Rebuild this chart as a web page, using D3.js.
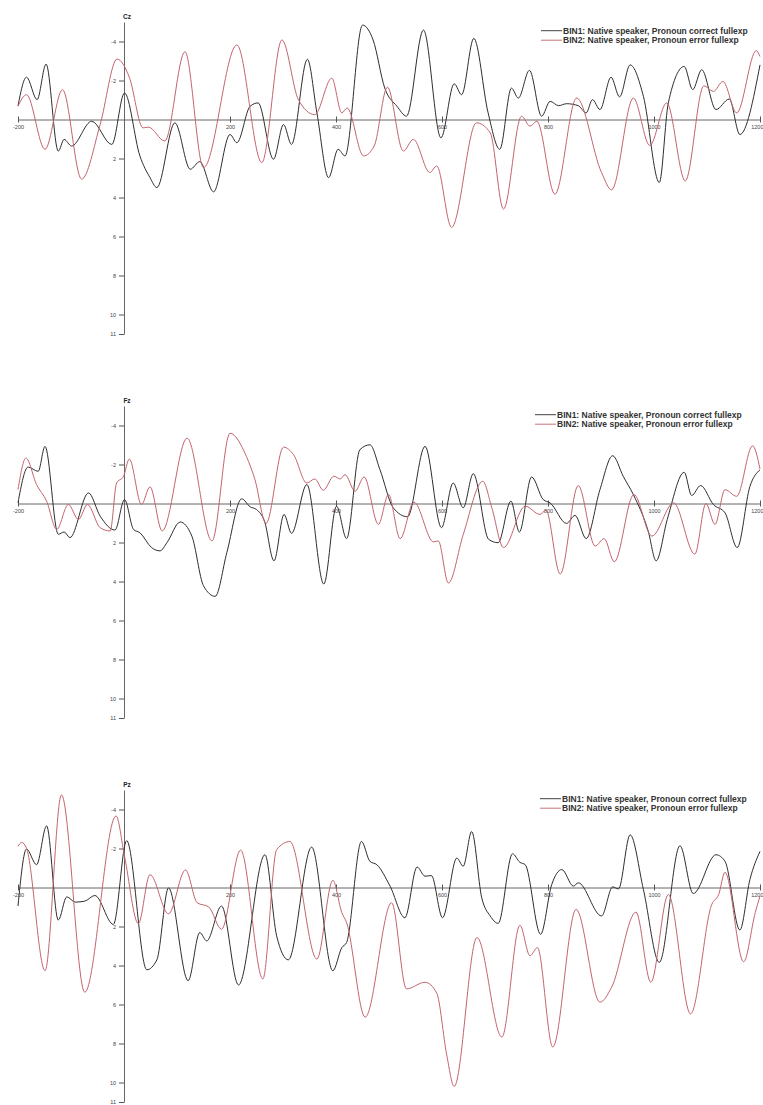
<!DOCTYPE html>
<html>
<head>
<meta charset="utf-8">
<script src="https://cdn.jsdelivr.net/npm/d3@7"></script>
<style>
  body { margin: 0; background: #fff; }
  svg { display: block; font-family: "Liberation Sans", Arial, sans-serif; }
</style>
</head>
<body>
<svg id="chart" width="763" height="1105"></svg>
<script>
/* ---- data (ms, µV) ------------------------------------------------- */
const channels  = ["Cz", "Fz", "Pz"];
const binLabels = [
  "BIN1: Native speaker, Pronoun correct fullexp",
  "BIN2: Native speaker, Pronoun error fullexp"
];
const xTicks = [-200, 200, 400, 600, 800, 1000, 1200];
const yTicks = [-4, -2, 2, 4, 6, 8, 10, 11];

const czBin1 = [[-200,-0.7],[-184,-2.17],[-164,-1.02],[-147,-2.84],[-124,1.62],[-113,1.02],[-99,1.36],[-61,0.09],[-23,1.28],[1,-1.36],[30,1.87],[49,2.98],[62,3.49],[96,0.17],[125,2.55],[143,2.16],[169,3.71],[200,0.77],[213,1.19],[238,-0.68],[253,-0.85],[282,2.04],[301,0.26],[316,1.28],[346,-3.09],[364,-0.34],[386,2.98],[404,1.53],[417,1.87],[450,-4.84],[470,-4.08],[492,-1.61],[515,-0.68],[533,-0.17],[565,-4.59],[598,0.94],[623,-1.83],[637,-1.27],[660,-4.16],[687,-0.34],[709,1.53],[731,-1.61],[744,-1.1],[765,-2.52],[788,-0.17],[804,-0.93],[820,-0.71],[835,-0.81],[857,-0.71],[872,-0.34],[884,-1.02],[898,-0.51],[919,-2.17],[935,-1.16],[955,-2.8],[980,-1.19],[1010,3.23],[1027,-0.85],[1057,-2.72],[1073,-1.53],[1090,-2.55],[1117,-0.51],[1142,-1.05],[1162,0.77],[1200,-2.8]];
const czBin2 = [[-200,-0.68],[-184,-1.27],[-149,1.53],[-116,-1.53],[-80,3.06],[-45,0.26],[-13,-3.1],[10,-2.17],[36,0.43],[46,0.39],[77,1.1],[115,-3.48],[150,2.47],[213,-3.82],[260,2.21],[298,-4.08],[329,-1.02],[360,-0.25],[392,-2.12],[411,-0.34],[421,-0.59],[452,1.87],[472,1.36],[497,-1.66],[527,1.62],[546,1.02],[577,2.72],[590,2.38],[618,5.53],[665,0.17],[691,0.68],[716,4.6],[750,-0.17],[766,0.34],[779,0.09],[813,3.83],[854,-1.1],[901,2.72],[920,3.61],[961,-1.1],[992,1.33],[1024,-0.85],[1059,3.15],[1094,-1.73],[1112,-1.44],[1130,-1.95],[1156,-0.34],[1193,-3.53],[1200,-3.23]];

const fzBin1 = [[-200,-0.04],[-181,-1.87],[-162,-1.65],[-149,-2.93],[-124,1.58],[-113,1.46],[-102,1.75],[-67,-0.54],[-45,0.65],[-17,1.36],[1,-0.2],[18,1.33],[30,1.5],[52,2.26],[68,2.43],[81,2.01],[106,0.95],[128,1.67],[150,4.22],[172,4.76],[194,2.52],[222,-0.24],[238,0.17],[250,0.31],[265,0.9],[283,2.94],[302,0.56],[316,1.53],[345,-0.97],[377,4.13],[401,0.14],[420,1.8],[445,-2.76],[464,-3.01],[483,-1.73],[508,0.22],[535,0.68],[568,-2.93],[599,1.24],[621,-1.05],[640,0.22],[659,-1.53],[688,1.84],[706,2.01],[730,-0.12],[746,1.46],[769,-1.36],[791,-0.2],[804,-0.03],[835,1.02],[851,0.61],[872,1.8],[898,-0.71],[922,-2.45],[942,-1.39],[961,-0.46],[989,1.41],[1004,2.94],[1025,0.82],[1057,-1.6],[1071,-0.41],[1088,-0.92],[1112,0.05],[1134,0.48],[1157,2.26],[1181,-0.88],[1200,-1.73]];
const fzBin2 = [[-200,-0.71],[-185,-2.33],[-165,-0.97],[-146,-0.12],[-127,1.33],[-105,0.05],[-86,0.82],[-69,0.05],[-45,1.24],[-26,1.41],[-14,-1.05],[-1,-1.39],[10,-2.28],[33,0.05],[49,-0.85],[72,1.41],[119,-3.35],[166,1.92],[200,-3.6],[231,-2.41],[247,-1.23],[268,1.02],[301,-2.89],[320,-2.5],[345,-1.05],[360,-1.26],[376,-0.68],[396,-1.4],[408,-1.26],[417,-1.48],[436,-0.63],[453,-1.36],[480,1.07],[499,-0.46],[521,1.8],[547,-0.07],[584,1.97],[593,1.92],[612,4.08],[640,1.6],[677,-1.14],[694,0.22],[716,2.26],[757,0.14],[785,0.56],[796,0.34],[823,3.62],[857,-0.92],[889,2.18],[906,1.8],[925,2.99],[962,-0.46],[996,1.67],[1037,-0.03],[1077,2.6],[1098,0.0],[1115,1.07],[1134,-0.71],[1156,-0.37],[1186,-2.96],[1200,-1.77]];

const pzBin1 = [[-200,0.95],[-184,-1.97],[-165,-1.17],[-146,-3.16],[-124,1.67],[-108,0.48],[-92,0.75],[-74,0.7],[-55,0.41],[-20,1.89],[5,-2.4],[43,4.22],[62,3.71],[84,0.02],[121,4.78],[143,2.31],[156,2.74],[184,0.95],[216,5.0],[266,-1.68],[288,2.48],[310,3.71],[354,-2.07],[394,4.27],[411,3.08],[420,2.82],[448,-2.36],[464,-1.34],[477,-1.17],[502,-0.07],[530,1.55],[553,-1.05],[568,-0.58],[580,-0.61],[601,1.55],[628,-1.51],[640,-1.09],[656,-2.87],[675,0.53],[691,1.46],[706,1.84],[733,-1.73],[747,-1.29],[757,-1.17],[786,2.4],[807,-0.15],[826,-0.92],[848,-0.07],[857,-0.24],[901,1.46],[922,-0.03],[933,0.07],[955,-2.7],[980,0.1],[1010,3.84],[1049,-2.14],[1074,0.31],[1117,-1.68],[1134,-1.34],[1162,2.18],[1181,-0.41],[1200,-1.85]];
const pzBin2 = [[-200,-2.11],[-193,-2.31],[-184,-2.02],[-149,4.27],[-118,-4.75],[-74,5.37],[-15,-3.67],[1,-1.6],[27,1.85],[49,-0.66],[84,1.35],[116,-0.9],[138,0.78],[160,1.0],[184,2.14],[220,-1.92],[262,4.69],[288,-1.94],[313,-2.36],[364,3.67],[394,-0.37],[411,1.29],[420,1.8],[455,6.65],[505,0.78],[533,5.2],[568,4.86],[590,5.41],[609,8.6],[623,10.2],[666,2.57],[713,7.67],[747,1.94],[766,3.5],[780,3.08],[809,8.18],[853,1.12],[898,5.88],[920,5.12],[966,1.26],[994,4.86],[1027,0.36],[1069,6.48],[1109,0.87],[1122,0.36],[1134,-0.78],[1169,3.81],[1191,1.29],[1200,0.44]];

const waves = [[czBin1, czBin2], [fzBin1, fzBin2], [pzBin1, pzBin2]];

/* ---- layout ------------------------------------------------------- */
const zeroY    = [120, 504, 888];      // baseline of each panel
const legendX  = [563, 557, 562];
const binColor = ["#2e2e2e", "#c4646e"];
const axisCol  = "#555";

const svg = d3.select("#chart");
const x = d3.scaleLinear([-200, 1200], [18, 760]);

channels.forEach((ch, i) => {
  const y0 = zeroY[i];
  const y = d3.scaleLinear([-5, 11], [y0 - 98, y0 + 214]);
  const g = svg.append("g");

  /* x axis on the zero line */
  const xa = g.append("g")
    .attr("transform", `translate(0,${y(0)})`)
    .call(d3.axisBottom(x).tickValues(xTicks).tickSizeInner(4).tickSizeOuter(0).tickPadding(2)
      .tickFormat(d => d < 0 ? "-" + Math.abs(d) : String(d)));
  xa.select(".domain").attr("stroke", axisCol).attr("stroke-width", 0.9);
  xa.selectAll(".tick line").attr("stroke", axisCol).attr("y1", -3).attr("y2", 3);
  xa.selectAll(".tick text").attr("font-size", 5.5).attr("fill", "#444").attr("font-family", null)
    .attr("text-anchor", d => d === 1200 ? "end" : "middle")
    .attr("dx", d => d === 1200 ? 3 : 0);

  /* y axis at 0 ms, negative up */
  const ya = g.append("g")
    .attr("transform", `translate(${x(0)},0)`)
    .call(d3.axisLeft(y).tickValues(yTicks).tickSizeInner(5).tickSizeOuter(0).tickPadding(3)
      .tickFormat(d => d < 0 ? "-" + Math.abs(d) : String(d)));
  ya.select(".domain").attr("stroke", axisCol).attr("stroke-width", 0.9);
  ya.selectAll(".tick line").attr("stroke", axisCol);
  ya.selectAll(".tick text").attr("font-size", 5.5).attr("fill", "#444").attr("font-family", null);

  g.append("text")
    .attr("x", x(0) + 3).attr("y", y0 - 101)
    .attr("text-anchor", "middle")
    .attr("font-size", 6.5).attr("font-weight", "bold").attr("fill", "#222")
    .text(ch);

  /* waveforms */
  const line = d3.line()
    .x(d => x(d[0]))
    .y(d => y(d[1]))
    .curve(d3.curveMonotoneX);

  waves[i].forEach((w, k) => {
    g.append("path")
      .datum(w)
      .attr("fill", "none")
      .attr("stroke", binColor[k])
      .attr("stroke-width", 1)
      .attr("d", line);
  });

  /* legend */
  binLabels.forEach((lab, k) => {
    const ly = y0 - 89.3 + k * 9.5;
    g.append("line")
      .attr("x1", legendX[i] - 22).attr("x2", legendX[i] - 1)
      .attr("y1", ly).attr("y2", ly)
      .attr("stroke", binColor[k]).attr("stroke-width", 0.9);
    g.append("text")
      .attr("x", legendX[i]).attr("y", ly + 3)
      .attr("font-size", 8.5).attr("font-weight", "bold").attr("fill", "#333")
      .text(lab);
  });
});
</script>
</body>
</html>
